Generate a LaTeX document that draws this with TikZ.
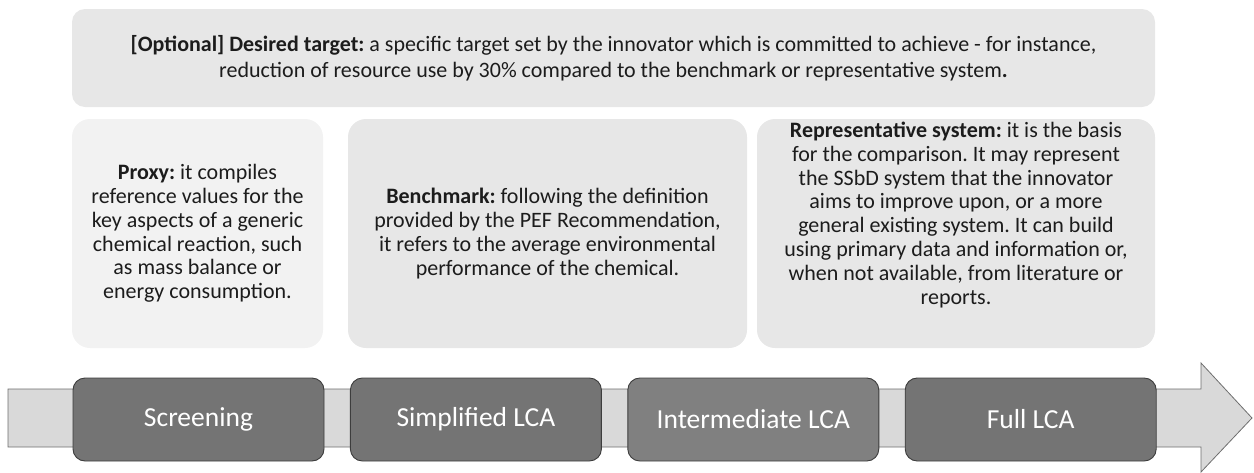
\documentclass[tikz,border=0pt]{standalone}
\usepackage{fontspec}
\setmainfont{Carlito}
\usepackage{tikz}
\usetikzlibrary{positioning}
\usepackage{xcolor}
\frenchspacing
\definecolor{LcaText}{HTML}{1C1C1C}
\definecolor{LcaBox}{HTML}{E7E7E7}
\definecolor{LcaBoxLight}{HTML}{F2F2F2}
\definecolor{LcaBand}{HTML}{D9D9D9}
\definecolor{LcaBandLine}{HTML}{6E6E6E}
\definecolor{LcaStage}{HTML}{747474}
\definecolor{LcaStageAlt}{HTML}{808080}
\definecolor{LcaStageLine}{HTML}{3D3D3D}

\begin{document}
\begin{tikzpicture}[
  x=1pt,y=-1pt,
  defbox/.style={draw=none,fill=LcaBox,rounded corners=18pt,inner sep=0pt,
    minimum height=229pt},
  deftext/.style={align=center,text=LcaText,inner sep=0pt,
    font=\fontsize{22}{23.8}\selectfont},
  targetbox/.style={defbox,rounded corners=13pt,minimum width=1083pt,
    minimum height=98pt,deftext,font=\fontsize{22}{26}\selectfont},
  band/.style={draw=LcaBandLine,fill=LcaBand,line width=0.8pt,line join=miter},
  stagebox/.style={draw=LcaStageLine,fill=LcaStage,rounded corners=12pt,
    line width=0.9pt,minimum width=251pt,minimum height=83pt,
    text=white,font=\fontsize{27.5}{30}\selectfont}
]
\useasboundingbox (0,0) rectangle (1254,472);

% optional target across all stages
\node[targetbox] (target) at (613.5,58)
  {\textbf{[Optional] Desired target:} a specific target set by the innovator which is committed to achieve - for instance,\\
   reduction of resource use by 30\% compared to the benchmark or representative system\textbf{.}};

% reference definitions
\node[defbox,fill=LcaBoxLight,minimum width=251pt,deftext] (proxy) at (197.5,233.5)
  {\textbf{Proxy:} it compiles\\reference values for the\\key aspects of a generic\\
   chemical reaction, such\\as mass balance or\\energy consumption.};
\node[defbox,minimum width=399pt,deftext] (bench) at (547.5,233.5)
  {\textbf{Benchmark:} following the definition\\provided by the PEF Recommendation,\\
   it refers to the average environmental\\performance of the chemical.};
\node[defbox,minimum width=398pt] (repbox) at (956,233.5) {};
\node[deftext,anchor=north] (reptext) at ([yshift=-3pt]repbox.north)
  {\textbf{Representative system:} it is the basis\\for the comparison. It may represent\\
   the SSbD system that the innovator\\aims to improve upon, or a more\\
   general existing system. It can build\\using primary data and information or,\\
   when not available, from literature or\\reports.};

% stage arrow
\draw[band] (8,389) -- (1201,389) -- (1201,363) -- (1252,418) -- (1201,472)
  -- (1201,447) -- (8,447) -- cycle;

\node[stagebox] (screening) at (198.5,419.5) {Screening};
\node[stagebox,right=25.5pt of screening] (simplified) {Simplified LCA};
\node[stagebox,fill=LcaStageAlt,right=25.5pt of simplified] (intermediate) {Intermediate LCA};
\node[stagebox,right=25.5pt of intermediate] (full) {Full LCA};

\end{tikzpicture}
\end{document}
